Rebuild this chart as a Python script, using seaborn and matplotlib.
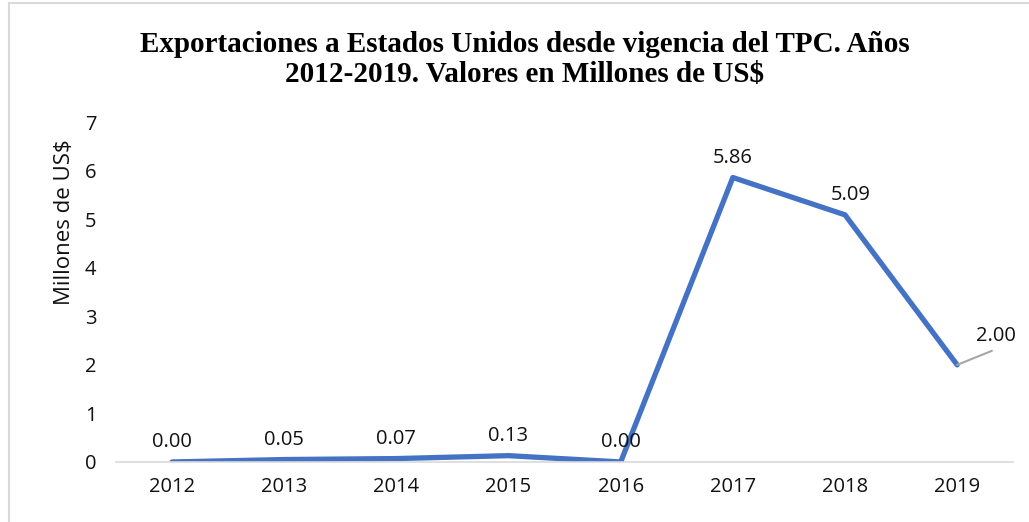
import numpy as np
import pandas as pd
import matplotlib
matplotlib.use("Agg")
import matplotlib.pyplot as plt
import seaborn as sns

# Datos
anios = ["2012", "2013", "2014", "2015", "2016", "2017", "2018", "2019"]
valores = [0.00, 0.05, 0.07, 0.13, 0.00, 5.86, 5.09, 2.00]
etiquetas = ["0.00", "0.05", "0.07", "0.13", "0.00", "5.86", "5.09", "2.00"]

df = pd.DataFrame({"anio": anios, "valor": valores})

sns.set_style("white")
plt.rcParams["font.family"] = ["Open Sans", "DejaVu Sans"]

fig = plt.figure(figsize=(10.29, 5.22), dpi=100)
ax = fig.add_axes([0.1127, 0.115, 0.872, 0.651])

sns.lineplot(data=df, x="anio", y="valor", sort=False, color="#4472C4",
             linewidth=3.8, ax=ax, solid_capstyle="round")

ax.set_xlim(-0.5, len(anios) - 0.5)
ax.set_ylim(0, 7)
ax.set_yticks(range(0, 8))

for s in ["top", "right", "left"]:
    ax.spines[s].set_visible(False)
ax.spines["bottom"].set_color("#d9d9d9")
ax.spines["bottom"].set_linewidth(1.2)
ax.tick_params(axis="both", length=0, labelsize=14.5, colors="#111111")
ax.tick_params(axis="x", pad=11)
ax.tick_params(axis="y", pad=14)

ax.set_xlabel("")
ax.set_ylabel("Millones de US$", fontsize=16, color="#111111")
ax.yaxis.set_label_coords(-0.046, 0.706)

# Etiquetas de datos
for i, (v, t) in enumerate(zip(valores, etiquetas)):
    if i == len(valores) - 1:
        ax.annotate("", xy=(i, v), xytext=(i + 0.31, v + 0.29),
                    arrowprops=dict(arrowstyle="-", color="#a6a6a6", lw=1.5,
                                    shrinkA=0, shrinkB=0))
        ax.text(i + 0.35, v + 0.6, t, fontsize=14.5, ha="center", va="center",
                color="#111111")
    else:
        dx = 4 if i == 6 else 0
        ax.annotate(t, xy=(i, v), xytext=(dx, 7), textcoords="offset points",
                    ha="center", va="bottom", fontsize=14.5, color="#111111")

fig.suptitle("Exportaciones a Estados Unidos desde vigencia del TPC. Años\n2012-2019. Valores en Millones de US$",
             x=0.51, y=0.94, fontsize=21, fontweight="bold", color="black",
             family="Liberation Serif", linespacing=1.15)

# Borde del gráfico
borde = plt.Rectangle((0.009, -0.01), 1.2, 1.004, transform=fig.transFigure,
                      fill=False, edgecolor="#d9d9d9", linewidth=1.5)
fig.patches.append(borde)

fig.savefig("out.png", dpi=100)
